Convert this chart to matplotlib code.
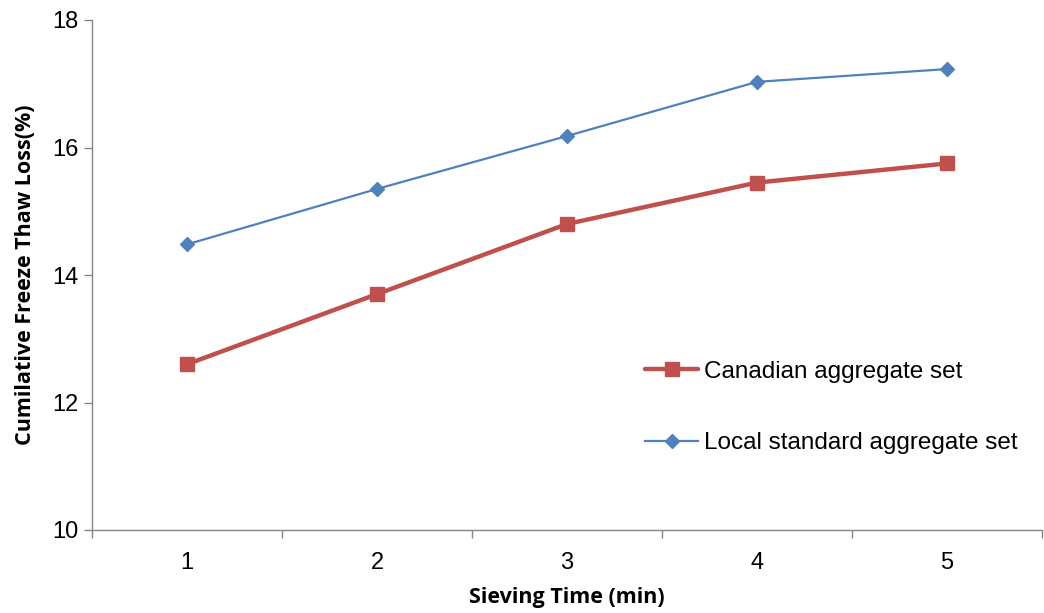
import matplotlib
matplotlib.use("Agg")
import matplotlib.pyplot as plt

sieving_time = [1, 2, 3, 4, 5]
canadian = [12.6, 13.7, 14.8, 15.45, 15.75]
local_standard = [14.48, 15.35, 16.18, 17.03, 17.23]
y_ticks = [10, 12, 14, 16, 18]

plt.rcParams['font.family'] = ['Liberation Sans', 'DejaVu Sans']

fig = plt.figure(figsize=(10.44, 6.13), dpi=100)
ax = fig.add_axes([92/1044, 1 - 530/613, 950/1044, 510/613])

ax.plot(sieving_time, canadian, color='#C0504D', lw=3.2, marker='s', ms=10,
        label='Canadian aggregate set', solid_capstyle='round')
ax.plot(sieving_time, local_standard, color='#4F81BD', lw=1.6, marker='D', ms=7,
        label='Local standard aggregate set')

ax.set_xlim(0.5, 5.5)
ax.set_ylim(10, 18)
ax.set_yticks(y_ticks)
ax.set_xticks(sieving_time)
ax.set_xticks([0.5, 1.5, 2.5, 3.5, 4.5, 5.5], minor=True)
ax.tick_params(axis='x', which='major', length=0, labelsize=17, pad=16)
ax.tick_params(axis='x', which='minor', length=6, width=1, color='#868686')
ax.tick_params(axis='y', length=6, width=1, color='#868686', labelsize=17, pad=3.5)

for side in ('top', 'right'):
    ax.spines[side].set_visible(False)
for side in ('left', 'bottom'):
    ax.spines[side].set_color('#868686')
    ax.spines[side].set_linewidth(1)

ax.set_xlabel('Sieving Time (min)', fontsize=15.5, fontweight='bold',
              family=['Open Sans', 'DejaVu Sans'], labelpad=9)
ax.set_ylabel('Cumilative Freeze Thaw Loss(%)', fontsize=15.5, fontweight='bold',
              family=['Open Sans', 'DejaVu Sans'], labelpad=12)

ax.legend(loc='upper left', bbox_to_anchor=(0.559, 0.375), frameon=False,
          fontsize=17.5, handlelength=2.2, handletextpad=0.25, labelspacing=2.05)

fig.savefig('out.png', dpi=100)
